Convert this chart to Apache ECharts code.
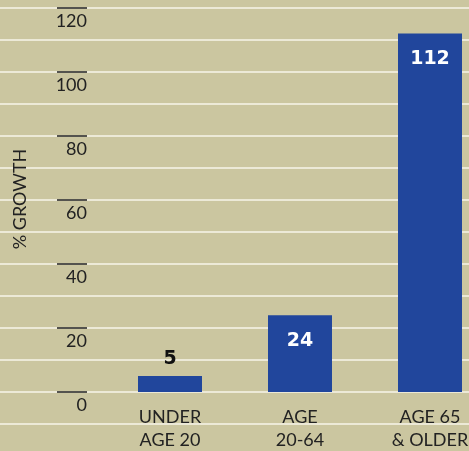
<!DOCTYPE html>
<html><head><meta charset="utf-8">
<script src="https://cdn.jsdelivr.net/npm/echarts@6/dist/echarts.min.js"></script>
<style>html,body{margin:0;padding:0;background:#cbc6a0;}#c{width:469px;height:451px;}</style>
</head><body><div id="c"></div>
<script>
const categories = ['UNDER\nAGE 20', 'AGE\n20-64', 'AGE 65\n& OLDER'];
const growth = [5, 24, 112];
const yTickLabels = [0, 20, 40, 60, 80, 100, 120];
const yAxisTitle = '% GROWTH';

const chart = echarts.init(document.getElementById('c'), null, {renderer: 'canvas'});
const font = 'Lato, "Liberation Sans", sans-serif';
const labelStyles = [
  {position: 'top', distance: 7, color: '#111'},
  {position: 'insideTop', distance: 16, color: '#fff'},
  {position: 'insideTop', distance: 16, color: '#fff'}
];
chart.setOption({
  backgroundColor: '#cbc6a0',
  animation: false,
  grid: [
    {left: 0, right: 0, top: 8, bottom: -5, containLabel: false, outerBoundsMode: 'none'},
    {left: 105, right: -26, top: 8, bottom: 59, containLabel: false, outerBoundsMode: 'none'}
  ],
  xAxis: [{
    gridIndex: 0, type: 'value', min: 0, max: 1, show: false
  }, {
    gridIndex: 1, type: 'category', data: categories, position: 'bottom',
    axisLine: {show: false},
    axisTick: {show: false},
    axisLabel: {show: true, color: '#222', fontFamily: font, fontSize: 18, lineHeight: 23, margin: 14, interval: 0, hideOverlap: false},
    splitLine: {show: false}
  }],
  yAxis: [{
    gridIndex: 0, type: 'value', min: -20, max: 120, interval: 10,
    axisLine: {show: false}, axisTick: {show: false}, axisLabel: {show: false},
    splitLine: {show: true, lineStyle: {color: '#ece9d7', width: 2}}
  }, {
    gridIndex: 1, type: 'value', min: 0, max: 120, interval: 20, position: 'left', offset: 18,
    axisLine: {show: false},
    axisTick: {show: true, length: 30, lineStyle: {color: '#222', width: 1.5}},
    splitLine: {show: false},
    axisLabel: {
      color: '#222', fontFamily: font, fontSize: 18, margin: 0,
      verticalAlign: 'top', padding: [4, 0, 0, 0],
      formatter: v => (yTickLabels.indexOf(v) >= 0 ? String(v) : '')
    }
  }],
  graphic: [{
    type: 'text', x: 20, y: 199, rotation: Math.PI / 2, z: 100,
    style: {text: yAxisTitle, font: '18px ' + font, fill: '#222', align: 'center', verticalAlign: 'middle'}
  }],
  series: [{
    type: 'bar', xAxisIndex: 1, yAxisIndex: 1, barWidth: 64,
    itemStyle: {color: '#21469c'},
    data: growth.map((v, i) => ({
      value: v,
      label: Object.assign({show: true, fontFamily: '"DejaVu Sans", sans-serif', fontWeight: 'bold', fontSize: 19}, labelStyles[i])
    }))
  }]
});
</script></body></html>
